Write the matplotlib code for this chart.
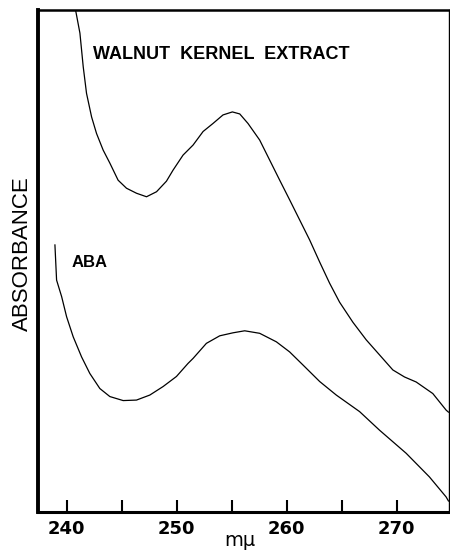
import matplotlib
matplotlib.use('Agg')
from matplotlib import pyplot as plt

# walnut kernel extract trace (wavelength in m-mu, absorbance in arbitrary units)
walnut_wl = [240.84, 241.21, 241.51, 241.81, 242.27, 242.72, 243.32, 243.93, 244.68, 245.44,
             246.35, 247.26, 248.17, 249.07, 249.67, 250.58, 251.49, 252.40, 253.30, 254.21,
             255.06, 255.73, 256.48, 257.54, 258.45, 259.36, 260.26, 261.17, 262.08, 262.99,
             263.89, 264.80, 266.01, 267.22, 268.43, 269.64, 270.70, 271.76, 273.27, 274.48, 274.69]
walnut_abs = [0.997, 0.954, 0.887, 0.834, 0.787, 0.754, 0.721, 0.695, 0.661, 0.645,
              0.635, 0.628, 0.638, 0.659, 0.681, 0.711, 0.731, 0.758, 0.774, 0.791,
              0.797, 0.793, 0.774, 0.741, 0.701, 0.661, 0.622, 0.582, 0.542, 0.498,
              0.456, 0.418, 0.378, 0.343, 0.313, 0.283, 0.269, 0.259, 0.236, 0.203, 0.199]

# ABA standard trace
aba_wl = [238.94, 239.09, 239.55, 240.00, 240.60, 241.36, 242.11, 243.02, 243.93, 245.14,
          246.35, 247.56, 248.77, 249.98, 251.03, 251.49, 252.70, 253.91, 255.12, 256.18,
          257.54, 259.06, 260.26, 261.47, 262.99, 264.50, 266.62, 268.43, 270.85, 272.96,
          274.48, 274.69]
aba_abs = [0.532, 0.462, 0.429, 0.389, 0.349, 0.309, 0.276, 0.246, 0.230, 0.222,
           0.223, 0.233, 0.250, 0.270, 0.296, 0.306, 0.336, 0.351, 0.357, 0.361,
           0.356, 0.339, 0.319, 0.293, 0.260, 0.233, 0.200, 0.163, 0.117, 0.070,
           0.030, 0.022]

xticks = [240, 245, 250, 255, 260, 265, 270]
xtick_labels = ['240', '', '250', '', '260', '', '270']

fig = plt.figure(figsize=(4.5, 5.53), dpi=100)
ax = fig.add_axes([0.0844, 0.0741, 0.9136, 0.9078])

ax.plot(walnut_wl, walnut_abs, color='black', lw=0.9)
ax.plot(aba_wl, aba_abs, color='black', lw=0.9)

ax.set_xlim(237.4, 274.75)
ax.set_ylim(0, 1)

ax.set_xticks(xticks)
ax.set_xticklabels(xtick_labels, fontweight='bold', fontsize=13)
ax.tick_params(axis='x', direction='in', length=9, width=1.5, pad=6)
ax.set_yticks([])

ax.spines['left'].set_linewidth(2.8)
ax.spines['bottom'].set_linewidth(2.2)
ax.spines['top'].set_linewidth(1.8)
ax.spines['right'].set_linewidth(1.0)

ax.text(242.4, 0.912, 'WALNUT  KERNEL  EXTRACT', fontsize=13, fontweight='bold',
        family='Liberation Sans', va='center', ha='left')
ax.text(240.45, 0.498, 'ABA', fontsize=12, fontweight='bold',
        family='Liberation Sans', va='center', ha='left')

fig.text(0.049, 0.541, 'ABSORBANCE', rotation=90, fontsize=16,
         family='Liberation Sans', ha='center', va='center')
fig.text(0.533, 0.006, 'm\u03bc', fontsize=14, ha='center', va='bottom')

fig.savefig('out.png', dpi=100)
